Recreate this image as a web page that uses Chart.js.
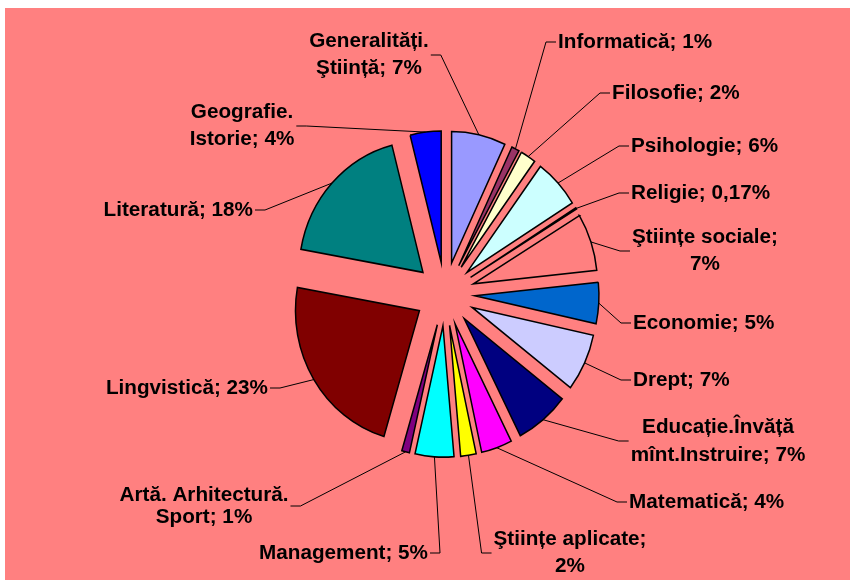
<!DOCTYPE html>
<html>
<head>
<meta charset="utf-8">
<script src="https://cdn.jsdelivr.net/npm/chart.js@4"></script>
<style>
  html, body { margin: 0; padding: 0; background: #fff; }
  #wrap { width: 850px; height: 580px; }
</style>
</head>
<body>
<div id="wrap"><canvas id="chart" width="850" height="580"></canvas></div>
<script>
// Exploded pie of library holdings by domain, Excel-style labels with leaders.

const categories = [
  "Generalități.\nŞtiință", "Informatică", "Filosofie", "Psihologie", "Religie",
  "Ştiințe sociale", "Economie", "Drept", "Educație.Învăță\nmînt.Instruire",
  "Matematică", "Ştiințe aplicate", "Management", "Artă. Arhitectură.\nSport",
  "Lingvistică", "Literatură", "Geografie.\nIstorie"
];
const values    = [7, 1, 2, 6, 0.17, 7, 5, 7, 7, 4, 2, 5, 1, 23, 18, 4];
const pctLabels = ["7%", "1%", "2%", "6%", "0,17%", "7%", "5%", "7%", "7%",
                   "4%", "2%", "5%", "1%", "23%", "18%", "4%"];
const colors    = ["#9999FF", "#993366", "#FFFFCC", "#CCFFFF", "#660066",
                   "#FF8080", "#0066CC", "#CCCCFF", "#000080", "#FF00FF",
                   "#FFFF00", "#00FFFF", "#800080", "#800000", "#008080",
                   "#0000FF"];

// label placement: [x, y, align, leader side, break before pct, line height]
const labelPos = [
  [369,  55, "center", "R", false, 27],
  [558,  42, "left",   "L", false, 0],
  [612,  93, "left",   "L", false, 0],
  [631, 146, "left",   "L", false, 0],
  [631, 193, "left",   "L", false, 0],
  [705, 251, "center", "L", true,  27],
  [633, 323, "left",   "L", false, 0],
  [633, 380, "left",   "L", false, 0],
  [718, 441, "center", "L", false, 28],
  [629, 502, "left",   "L", false, 0],
  [570, 553, "center", "L", true,  27],
  [428, 553, "right",  "R", false, 0],
  [204, 506, "center", "R", false, 22],
  [268, 388, "right",  "R", false, 0],
  [253, 210, "right",  "R", false, 0],
  [242, 126, "center", "R", false, 27],
];

const FONT    = "bold 20.7px 'Liberation Sans', Arial, sans-serif";
const SCALE_Y = 1.06;   // the original pie is slightly taller than wide
const EXPLODE = 30;     // every slice is pulled out by this many px

// Chart.js' own `offset` also grows/shrinks the slice, Excel just moves it.
class ExplodedArc extends Chart.ArcElement {
  static id = "explodedArc";
  draw(ctx) {
    const mid = (this.startAngle + this.endAngle) / 2;
    ctx.save();
    ctx.translate(Math.cos(mid) * EXPLODE, Math.sin(mid) * EXPLODE);
    super.draw(ctx);
    ctx.restore();
  }
}
class ExplodedPie extends Chart.PieController {
  static id = "explodedPie";
  static defaults = { dataElementType: "explodedArc" };
}
Chart.register(ExplodedArc, ExplodedPie);

const pageBg = {
  id: "pageBg",
  beforeDraw(c) {
    const ctx = c.ctx;
    ctx.save();
    ctx.fillStyle = "#fff";
    ctx.fillRect(0, 0, c.width, c.height);
    ctx.fillStyle = "#FF8080";
    ctx.fillRect(5, 8, c.width - 5, c.height - 8);
    ctx.restore();
  }
};

const squashAndLabel = {
  id: "squashAndLabel",
  beforeDatasetsDraw(c) {
    const a = c.getDatasetMeta(0).data[0];
    c.ctx.save();
    c.ctx.translate(a.x, a.y);
    c.ctx.scale(1, SCALE_Y);
    c.ctx.translate(-a.x, -a.y);
  },
  afterDatasetsDraw(c) {
    const ctx = c.ctx;
    ctx.restore();
    const arcs = c.getDatasetMeta(0).data;
    ctx.save();
    ctx.font = FONT;
    ctx.fillStyle = "#000";
    ctx.strokeStyle = "#000";
    ctx.lineWidth = 1;
    ctx.textBaseline = "middle";
    ctx.textAlign = "center";
    arcs.forEach((arc, i) => {
      const [x, y, align, side, wrap, lh] = labelPos[i];
      const text  = categories[i] + ";" + (wrap ? "\n" : " ") + pctLabels[i];
      const lines = text.split("\n");
      const w = Math.max(...lines.map(l => ctx.measureText(l).width));
      const left = align === "left" ? x : align === "right" ? x - w : x - w / 2;

      // leader from the middle of the slice's outer edge
      const mid = (arc.startAngle + arc.endAngle) / 2;
      const r   = arc.outerRadius + EXPLODE;
      const sx  = arc.x + Math.cos(mid) * r;
      const sy  = arc.y + Math.sin(mid) * r * SCALE_Y;
      const edge  = side === "L" ? left - 2 : left + w + 2;
      const elbow = side === "L" ? edge - 10 : edge + 10;
      ctx.beginPath();
      ctx.moveTo(sx, sy);
      ctx.lineTo(elbow, y);
      ctx.lineTo(edge, y);
      ctx.stroke();

      lines.forEach((l, k) => {
        ctx.fillText(l, left + w / 2, y + (k - (lines.length - 1) / 2) * lh);
      });
    });
    ctx.restore();
  }
};

new Chart(document.getElementById("chart"), {
  type: "explodedPie",
  data: {
    labels: categories,
    datasets: [{
      data: values,
      backgroundColor: colors,
      borderColor: "#000",
      borderWidth: 1.5,
      borderJoinStyle: "miter",
      radius: 124,
    }],
  },
  options: {
    responsive: false,
    animation: false,
    layout: { padding: { left: 40, top: 8, right: 0, bottom: 0 } },
    plugins: {
      legend:  { display: false },
      tooltip: { enabled: false },
    },
  },
  plugins: [pageBg, squashAndLabel],
});
</script>
</body>
</html>
